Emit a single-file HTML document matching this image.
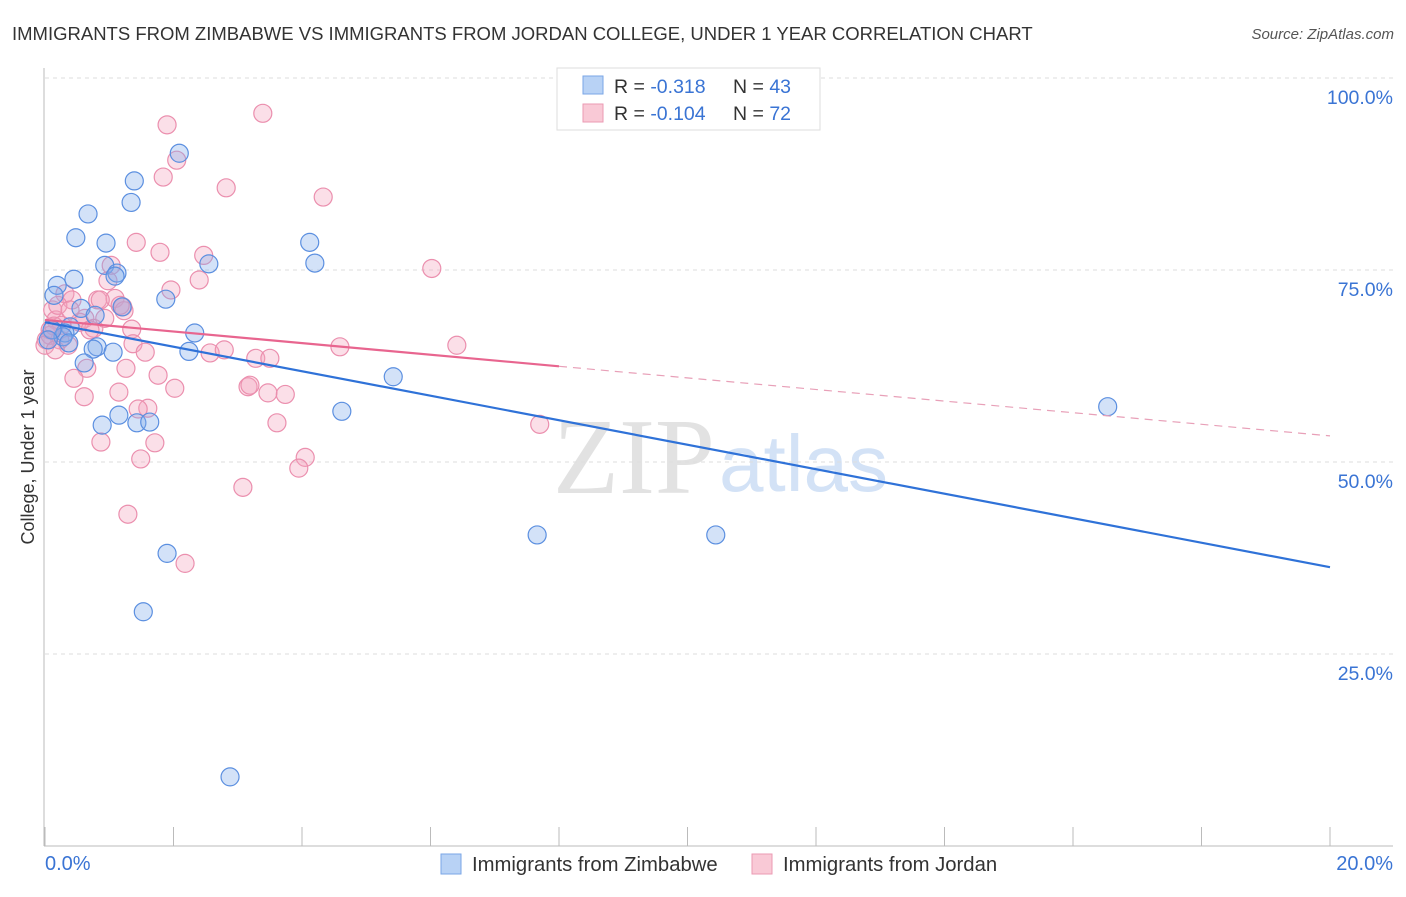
<!DOCTYPE html>
<html><head><meta charset="utf-8"><style>
body{margin:0;background:#fff;font-family:"Liberation Sans",sans-serif;}
</style></head><body>
<svg id="chart" width="1406" height="892" xmlns="http://www.w3.org/2000/svg">
<text x="12" y="40" font-size="18.5" fill="#333">IMMIGRANTS FROM ZIMBABWE VS IMMIGRANTS FROM JORDAN COLLEGE, UNDER 1 YEAR CORRELATION CHART</text>
<text x="1394" y="39" font-size="15" fill="#555" font-style="italic" text-anchor="end">Source: ZipAtlas.com</text>
<g>
<text x="553" y="493" font-size="108" font-family="Liberation Serif,serif" fill="#e2e2e2">ZIP</text>
<text x="719" y="491" font-size="80" fill="#d3e2f6">atlas</text>
</g>
<g id="grid"></g>
<g id="marks"></g>
<text transform="translate(34,457) rotate(-90)" font-size="18" fill="#333" text-anchor="middle">College, Under 1 year</text>
<g>
<rect x="557" y="68" width="263" height="62" fill="#fff" stroke="#ddd"/>
<rect x="583" y="76" width="20" height="18" fill="#b8d2f5" stroke="#7aa6e6"/>
<rect x="583" y="104" width="20" height="18" fill="#f9c9d6" stroke="#eb9ab3"/>
<text x="614" y="93" font-size="19.5" fill="#333">R = <tspan fill="#3a74d4">-0.318</tspan><tspan x="733">N = </tspan><tspan fill="#3a74d4">43</tspan></text>
<text x="614" y="120" font-size="19.5" fill="#333">R = <tspan fill="#3a74d4">-0.104</tspan><tspan x="733">N = </tspan><tspan fill="#3a74d4">72</tspan></text>
</g>
<g>
<rect x="441" y="854" width="20" height="20" fill="#b8d2f5" stroke="#7aa6e6"/>
<text x="472" y="871" font-size="20.3" fill="#333">Immigrants from Zimbabwe</text>
<rect x="752" y="854" width="20" height="20" fill="#f9c9d6" stroke="#eb9ab3"/>
<text x="783" y="871" font-size="20.3" fill="#333">Immigrants from Jordan</text>
</g>
</svg>
<script>
const yTicks=[25,50,75,100];
const yTickLabels=["25.0%","50.0%","75.0%","100.0%"];
const xTicks=[0,2,4,6,8,10,12,14,16,18,20];
const xEndLabels=["0.0%","20.0%"];
const zimX=[2.09,1.39,1.34,0.67,0.48,0.95,4.12,4.20,2.55,0.93,1.12,1.09,0.45,0.19,0.14,1.88,0.56,1.20,0.78,0.39,0.31,2.33,0.28,0.37,0.81,0.75,1.06,2.24,0.61,5.42,1.15,4.62,0.89,1.43,1.63,16.54,7.66,10.44,1.90,1.53,2.88,0.11,0.05];
const zimY=[90.2,86.6,83.8,82.3,79.2,78.5,78.6,75.9,75.8,75.6,74.6,74.2,73.8,73.0,71.7,71.2,70.0,70.2,69.1,67.6,66.8,66.8,66.3,65.5,65.0,64.7,64.3,64.4,62.9,61.1,56.1,56.6,54.8,55.1,55.2,57.2,40.5,40.5,38.1,30.5,9.0,67.2,65.9];
const jorX=[3.39,1.90,2.05,1.84,2.82,4.33,1.42,1.79,2.47,6.02,2.40,1.03,0.98,1.96,0.31,0.82,1.09,1.21,1.23,0.42,0.12,0.17,0.62,0.76,0.26,1.35,0.02,0.08,0.14,0.54,0.93,0.36,1.37,1.56,2.57,2.79,3.28,3.50,4.59,6.41,1.26,0.65,1.76,0.45,2.02,3.16,3.19,3.47,3.74,1.15,0.61,1.60,1.45,3.61,7.70,0.87,1.71,4.05,1.49,3.95,3.08,1.29,2.18,1.17,0.20,0.70,0.23,0.08,0.86,0.39,0.00,0.16];
const jorY=[95.4,93.9,89.3,87.1,85.7,84.5,78.6,77.3,76.9,75.2,73.7,75.6,73.6,72.4,71.9,71.1,71.3,70.2,69.7,71.1,69.8,68.5,68.7,67.4,67.8,67.3,65.9,66.5,67.7,68.2,68.7,65.2,65.4,64.3,64.2,64.6,63.5,63.5,65.0,65.2,62.2,62.2,61.3,60.9,59.6,59.8,60.0,59.0,58.8,59.1,58.5,57.0,56.9,55.1,54.9,52.6,52.5,50.6,50.4,49.2,46.7,43.2,36.8,70.4,70.4,67.2,65.9,67.2,71.1,69.8,65.2,64.6];
const zimTrend=[68.2,36.3];
const jorTrend=[68.5,53.4];
const jorSolidEnd=8;

const NS="http://www.w3.org/2000/svg";
const X0=45,X1=1330,Y0=846,Y100=78;
const sx=v=>X0+(v/20)*(X1-X0);
const sy=v=>Y0-(v/100)*(Y0-Y100);
function mk(tag,attrs,parent){const e=document.createElementNS(NS,tag);for(const k in attrs)e.setAttribute(k,attrs[k]);parent.appendChild(e);return e;}
const grid=document.getElementById('grid'),marks=document.getElementById('marks');
yTicks.forEach((t,i)=>{
  const g=mk('line',{x1:X0,x2:1393,y1:sy(t),y2:sy(t),stroke:'#ddd','stroke-dasharray':'4 4'},grid);
  
  
  const l=mk('text',{x:1393,y:sy(t)+26,'font-size':19.5,fill:'#3a74d4','text-anchor':'end'},grid);
  l.textContent=yTickLabels[i];
  
  
});
const ya=mk('line',{x1:44,x2:44,y1:68,y2:Y0,stroke:'#bbb'},grid);


const xa=mk('line',{x1:44,x2:1393,y1:Y0,y2:Y0,stroke:'#bbb'},grid);


xTicks.forEach(t=>{
  const k=mk('line',{x1:sx(t),x2:sx(t),y1:827,y2:Y0,stroke:'#bbb'},grid);
  
  
});
[[0,'start',45],[20,'end',1393]].forEach((d,i)=>{
  const l=mk('text',{x:d[2],y:870,'font-size':20,fill:'#3a74d4','text-anchor':d[1]},grid);
  l.textContent=xEndLabels[i];
  
  
});
jorX.forEach((x,i)=>{
  const c=mk('circle',{cx:sx(x),cy:sy(jorY[i]),r:9,fill:'rgba(244,164,190,0.35)',stroke:'#eb8fae','stroke-width':1.2},marks);
  
  
});
zimX.forEach((x,i)=>{
  const c=mk('circle',{cx:sx(x),cy:sy(zimY[i]),r:9,fill:'rgba(130,172,235,0.35)',stroke:'#5b8fe0','stroke-width':1.2},marks);
  
  
});
const zl=mk('line',{x1:sx(0),y1:sy(zimTrend[0]),x2:sx(20),y2:sy(zimTrend[1]),stroke:'#2f72d8','stroke-width':2.2},marks);


const jm=jorTrend[0]+(jorTrend[1]-jorTrend[0])*jorSolidEnd/20;
const jl=mk('line',{x1:sx(0),y1:sy(jorTrend[0]),x2:sx(jorSolidEnd),y2:sy(jm),stroke:'#e8658f','stroke-width':2.2},marks);


const jd=mk('line',{x1:sx(jorSolidEnd),y1:sy(jm),x2:sx(20),y2:sy(jorTrend[1]),stroke:'#e8a0b8','stroke-width':1.2,'stroke-dasharray':'8 6'},marks);


</script>
</body></html>
